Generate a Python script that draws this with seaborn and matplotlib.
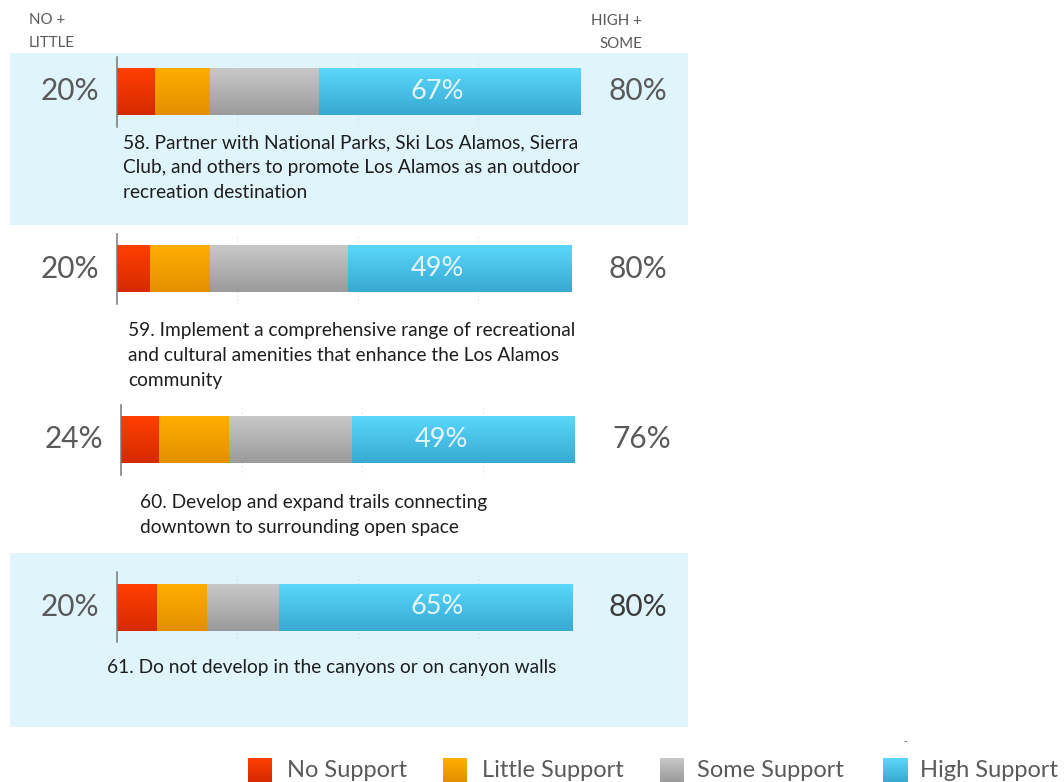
import numpy as np
import pandas as pd
import matplotlib
matplotlib.use("Agg")
import matplotlib.pyplot as plt
import seaborn as sns
from matplotlib.colors import LinearSegmentedColormap
from matplotlib.patches import Rectangle

# ---------------- data ----------------
categories = ["No Support", "Little Support", "Some Support", "High Support"]
no_support = [7.8, 6.7, 7.7, 8.1]
little_support = [11.3, 12.4, 14.5, 10.4]
some_support = [22.7, 28.7, 25.6, 15.0]
high_support = [54.3, 46.4, 46.2, 61.0]
inner_labels = ["67%", "49%", "49%", "65%"]
left_labels = ["20%", "20%", "24%", "20%"]
right_labels = ["80%", "80%", "76%", "80%"]
descriptions = [
    ["58. Partner with National Parks, Ski Los Alamos, Sierra",
     "Club, and others to promote Los Alamos as an outdoor",
     "recreation destination"],
    ["59. Implement a comprehensive range of recreational",
     "and cultural amenities that enhance the Los Alamos",
     "community"],
    ["60. Develop and expand trails connecting",
     "downtown to surrounding open space"],
    ["61. Do not develop in the canyons or on canyon walls"],
]
header_left = ["NO +", "LITTLE"]
header_right = ["HIGH +", "SOME"]

# ---------------- style ----------------
sns.set_theme(style="white")
plt.rcParams["font.family"] = ["Lato", "DejaVu Sans"]

W, H = 1064, 782
fig = plt.figure(figsize=(W / 100, H / 100), dpi=100)
fig.patch.set_facecolor("white")

def fx(px):
    return px / W

def fy(py):
    return 1 - py / H

grad_colors = [("#ff3f00", "#d62a00"),
               ("#ffae00", "#e48f00"),
               ("#c8c8c8", "#9b9b9b"),
               ("#5ad7fc", "#38a9d2")]
cmaps = [LinearSegmentedColormap.from_list(f"g{i}", [c[1], c[0]]) for i, c in enumerate(grad_colors)]
grad = np.linspace(0, 1, 64).reshape(-1, 1)

# background bands on a full-figure axes behind everything
bg = fig.add_axes([0, 0, 1, 1], zorder=-5)
bg.set_xlim(0, W)
bg.set_ylim(H, 0)
bg.axis("off")
band_color = "#dff4fb"
for (y0, y1) in [(53, 225), (553, 727)]:
    bg.add_patch(Rectangle((10, y0), 678, y1 - y0, facecolor=band_color,
                           edgecolor="none"))

origins_x = [116.7, 116.7, 121.0, 116.7]
centers_y = [91.5, 269.0, 439.5, 607.0]
desc_x = [123, 128, 140, 107]
desc_base = [148, 336, 508, 673]
AX_H = 70.0
BAR_H = 47.0
SCALE = 482.0  # px for 100 units

text_gray = "#5a5a5a"

for r in range(4):
    x0 = origins_x[r]
    cy = centers_y[r]
    ax = fig.add_axes([fx(x0), fy(cy + AX_H / 2), SCALE / W, AX_H / H], zorder=2)
    ax.set_facecolor("none")
    segs = [no_support[r], little_support[r], some_support[r], high_support[r]]
    cums = np.cumsum(segs)
    df = pd.DataFrame({"cat": categories, "cum": cums, "row": ["r"] * 4})
    # draw largest cumulative first so smaller stacks sit on top
    for i in range(3, -1, -1):
        sns.barplot(x=[df["cum"].iloc[i]], y=["r"], orient="h", ax=ax,
                    width=BAR_H / AX_H, color=grad_colors[i][0], saturation=1,
                    linewidth=0)
    patches = list(ax.patches)
    for k, p in enumerate(patches):
        i = 3 - k
        bx, by = p.get_x(), p.get_y()
        bw, bh = p.get_width(), p.get_height()
        ax.imshow(grad, extent=[bx, bx + bw, by + bh, by], aspect="auto",
                  cmap=cmaps[i], origin="lower", zorder=2 + k * 0.1,
                  interpolation="bilinear")
        p.set_alpha(0)
    ax.set_xlim(0, 100)
    ax.set_ylim(0.5, -0.5)
    ax.set_xlabel("")
    ax.set_ylabel("")
    ax.set_xticks([25, 50, 75, 100])
    ax.set_yticks([])
    ax.tick_params(axis="x", length=0, labelbottom=False)
    ax.grid(axis="x", color="#d3dde1", linestyle=(0, (1, 2.5)), linewidth=0.8)
    ax.grid(axis="y", visible=False)
    ax.set_axisbelow(True)
    for s in ["top", "right", "bottom"]:
        ax.spines[s].set_visible(False)
    ax.spines["left"].set_color("#777777")
    ax.spines["left"].set_linewidth(1.1)
    ax.spines["left"].set_zorder(5)

    # side and inner labels
    ax.text(-3.6, 0.0, left_labels[r], ha="right", va="center", fontsize=21.5,
            color=text_gray, clip_on=False)
    rc = "#3c3c3c" if r == 3 else text_gray
    ax.text(102.0, 0.0, right_labels[r], ha="left", va="center", fontsize=21.5,
            color=rc, clip_on=False)
    ax.text(66.5, 0.0, inner_labels[r], ha="center", va="center", fontsize=19.5,
            color="#e4f6fc", zorder=10)

    for j, line in enumerate(descriptions[r]):
        fig.text(fx(desc_x[r]), fy(desc_base[r] + 25 * j), line, ha="left",
                 va="baseline", fontsize=13.8, color="#1e1e1e")

# headers
fig.text(fx(29), fy(24), header_left[0], ha="left", va="baseline", fontsize=10.8,
         color=text_gray)
fig.text(fx(29), fy(47), header_left[1], ha="left", va="baseline", fontsize=10.8,
         color=text_gray)
fig.text(fx(642), fy(25), header_right[0], ha="right", va="baseline", fontsize=10.8,
         color=text_gray)
fig.text(fx(642), fy(48), header_right[1], ha="right", va="baseline", fontsize=10.8,
         color=text_gray)

# legend
sq_x = [248, 443, 660, 883]
tx_x = [287, 482, 697, 920]
for i, name in enumerate(categories):
    lax = fig.add_axes([fx(sq_x[i]), 0, 24 / W, fy(758)])
    lax.imshow(grad, extent=[0, 1, 0, 1], aspect="auto", cmap=cmaps[i],
               origin="lower", interpolation="bilinear")
    lax.axis("off")
    fig.text(fx(tx_x[i]), fy(777), name, ha="left", va="baseline", fontsize=17,
             color=text_gray)

fig.text(fx(905), fy(742), "-", ha="center", va="center", fontsize=7, color="#444444")

fig.savefig("out.png", dpi=100, facecolor="white")
